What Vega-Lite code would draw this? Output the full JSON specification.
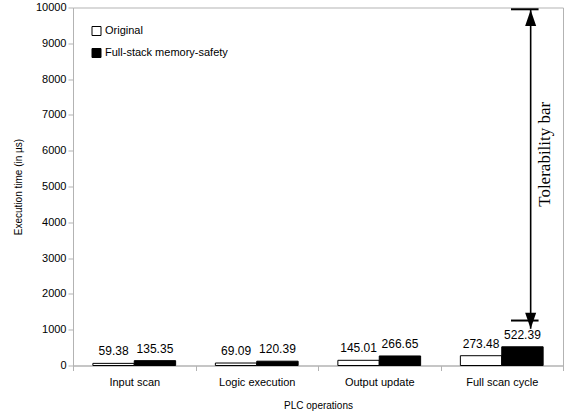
{
  "$schema": "https://vega.github.io/schema/vega-lite/v6.json",
  "width": 490,
  "height": 358,
  "autosize": "none",
  "padding": {"left": 73, "top": 7.5, "right": 2, "bottom": 51.5},
  "config": {
    "font": "Liberation Sans",
    "view": {"stroke": "#b3b3b3", "strokeWidth": 1},
    "axisX": {
      "titleFontSize": 10, "titleFontWeight": "normal", "titleColor": "black", "titlePadding": 13,
      "labelAngle": 0, "labelFontSize": 11, "labelColor": "black", "labelPadding": 6,
      "tickBand": "extent", "tickSize": 5, "tickColor": "#b3b3b3", "domainColor": "#b3b3b3", "grid": false
    },
    "axisY": {
      "titleFontSize": 10, "titleFontWeight": "normal", "titleColor": "black", "titlePadding": 12,
      "labelFontSize": 11, "labelColor": "black", "labelPadding": 2,
      "tickSize": 5, "tickColor": "#b3b3b3", "domainColor": "#b3b3b3", "grid": false
    }
  },
  "datasets": {
    "bars": [
      {"op": "Input scan", "series": "Original", "value": 59.38},
      {"op": "Input scan", "series": "Full-stack memory-safety", "value": 135.35},
      {"op": "Logic execution", "series": "Original", "value": 69.09},
      {"op": "Logic execution", "series": "Full-stack memory-safety", "value": 120.39},
      {"op": "Output update", "series": "Original", "value": 145.01},
      {"op": "Output update", "series": "Full-stack memory-safety", "value": 266.65},
      {"op": "Full scan cycle", "series": "Original", "value": 273.48},
      {"op": "Full scan cycle", "series": "Full-stack memory-safety", "value": 522.39}
    ],
    "arrowLine": [{"op": "Full scan cycle", "top": 9930, "bottom": 1027}],
    "arrowHeads": [
      {"op": "Full scan cycle", "y": 9930, "dir": "up"},
      {"op": "Full scan cycle", "y": 1027, "dir": "down"}
    ],
    "caps": [
      {"op": "Full scan cycle", "y": 9950},
      {"op": "Full scan cycle", "y": 1256}
    ],
    "note": [{"op": "Full scan cycle", "y": 5900, "label": "Tolerability bar"}]
  },
  "layer": [
    {
      "data": {"name": "bars"},
      "mark": {"type": "bar", "stroke": "black", "strokeWidth": 1},
      "encoding": {
        "x": {
          "field": "op", "type": "nominal",
          "scale": {"domain": ["Input scan", "Logic execution", "Output update", "Full scan cycle"], "paddingInner": 0, "paddingOuter": 0},
          "axis": {"title": "PLC operations"}
        },
        "xOffset": {
          "field": "series", "type": "nominal",
          "scale": {"domain": ["Original", "Full-stack memory-safety"], "paddingInner": 0, "paddingOuter": 0.48}
        },
        "y": {
          "field": "value", "type": "quantitative",
          "scale": {"domain": [0, 10000], "nice": false},
          "axis": {"title": "Execution time (in µs)", "tickCount": 20, "values": [0, 1000, 2000, 3000, 4000, 5000, 6000, 7000, 8000, 9000, 10000], "format": "d", "labelOverlap": false}
        },
        "fill": {
          "field": "series", "type": "nominal",
          "scale": {"domain": ["Original", "Full-stack memory-safety"], "range": ["white", "black"]},
          "legend": {
            "title": null, "orient": "none", "legendX": 18, "legendY": 18,
            "symbolType": "square", "symbolSize": 81, "symbolStrokeColor": "black", "symbolStrokeWidth": 1,
            "labelFontSize": 11, "labelColor": "black", "labelOffset": 3, "rowPadding": 9
          }
        }
      }
    },
    {
      "data": {"name": "bars"},
      "mark": {"type": "text", "baseline": "bottom", "dy": -5, "fontSize": 12, "color": "black"},
      "encoding": {
        "x": {"field": "op", "type": "nominal"},
        "xOffset": {"field": "series", "type": "nominal"},
        "y": {"field": "value", "type": "quantitative"},
        "text": {"field": "value", "type": "quantitative", "format": ".2f"}
      }
    },
    {
      "data": {"name": "arrowLine"},
      "mark": {"type": "rule", "stroke": "black", "strokeWidth": 1.6},
      "encoding": {
        "x": {"field": "op", "type": "nominal", "bandPosition": 0.736},
        "y": {"field": "top", "type": "quantitative"},
        "y2": {"field": "bottom"}
      }
    },
    {
      "data": {"name": "arrowHeads"},
      "mark": {"type": "point", "filled": true, "color": "black", "opacity": 1, "size": 256},
      "encoding": {
        "x": {"field": "op", "type": "nominal", "bandPosition": 0.736},
        "y": {"field": "y", "type": "quantitative"},
        "shape": {
          "field": "dir", "type": "nominal",
          "scale": {"domain": ["up", "down"], "range": ["M0,0L0.69,2L-0.69,2Z", "M0,0L0.69,-2L-0.69,-2Z"]},
          "legend": null
        }
      }
    },
    {
      "data": {"name": "caps"},
      "mark": {"type": "point", "shape": "M-1,0L1,0", "filled": false, "stroke": "black", "strokeWidth": 2, "opacity": 1, "size": 760},
      "encoding": {
        "x": {"field": "op", "type": "nominal", "bandPosition": 0.688},
        "y": {"field": "y", "type": "quantitative"}
      }
    },
    {
      "data": {"name": "note"},
      "mark": {"type": "text", "angle": 270, "align": "center", "baseline": "middle", "font": "Liberation Serif", "fontSize": 17, "color": "black"},
      "encoding": {
        "x": {"field": "op", "type": "nominal", "bandPosition": 0.85},
        "y": {"field": "y", "type": "quantitative"},
        "text": {"field": "label"}
      }
    }
  ]
}
